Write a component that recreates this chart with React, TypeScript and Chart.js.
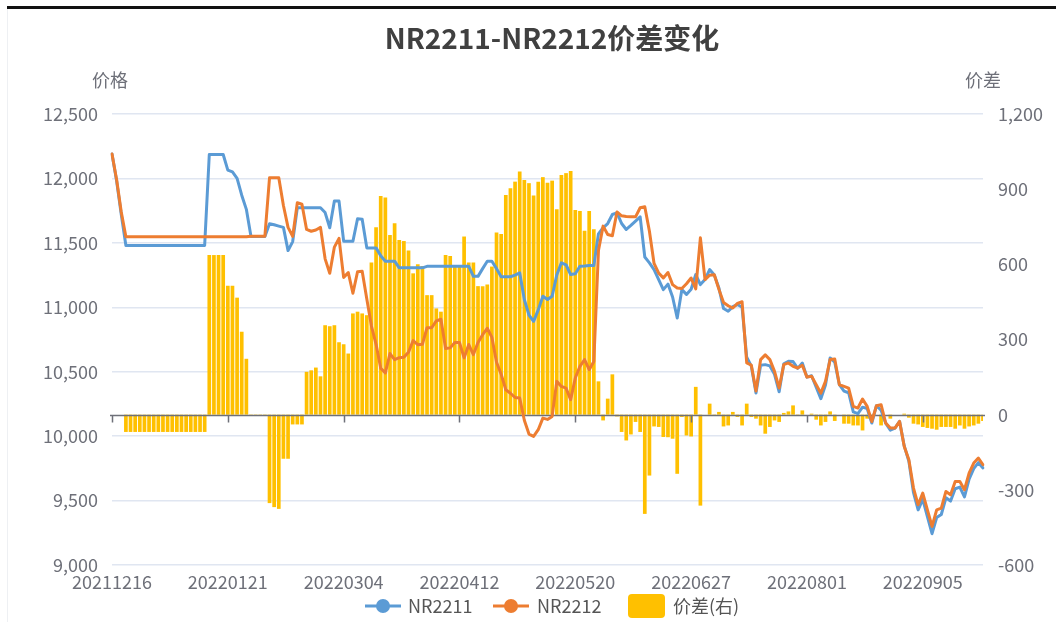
import React, { useEffect, useRef } from 'react';
import { Chart, registerables } from 'chart.js';

Chart.register(...registerables);

const FONT = '"Noto Sans CJK SC", "Noto Sans", sans-serif';

const chartTitle = 'NR2211-NR2212价差变化';
const leftAxisName = '价格';
const rightAxisName = '价差';
const seriesNames = ['NR2211', 'NR2212', '价差(右)'];

// trading days (yyyymm, day list)
const tradingDays: [string, number[]][] = [
  ['202112', [16, 17, 20, 21, 22, 23, 24, 27, 28, 29, 30, 31]],
  ['202201', [4, 5, 6, 7, 10, 11, 12, 13, 14, 17, 18, 19, 20, 21, 24, 25, 26, 27, 28]],
  ['202202', [7, 8, 9, 10, 11, 14, 15, 16, 17, 18, 21, 22, 23, 24, 25, 28]],
  ['202203', [1, 2, 3, 4, 7, 8, 9, 10, 11, 14, 15, 16, 17, 18, 21, 22, 23, 24, 25, 28, 29, 30, 31]],
  ['202204', [1, 6, 7, 8, 11, 12, 13, 14, 15, 18, 19, 20, 21, 22, 25, 26, 27, 28, 29]],
  ['202205', [5, 6, 9, 10, 11, 12, 13, 16, 17, 18, 19, 20, 23, 24, 25, 26, 27, 30, 31]],
  ['202206', [1, 2, 6, 7, 8, 9, 10, 13, 14, 15, 16, 17, 20, 21, 22, 23, 24, 27, 28, 29, 30]],
  ['202207', [1, 4, 5, 6, 7, 8, 11, 12, 13, 14, 15, 18, 19, 20, 21, 22, 25, 26, 27, 28, 29]],
  ['202208', [1, 2, 3, 4, 5, 8, 9, 10, 11, 12, 15, 16, 17, 18, 19, 22, 23, 24, 25, 26, 29, 30, 31]],
  ['202209', [1, 2, 5, 6, 7, 8, 9, 13, 14, 15, 16, 19, 20, 21, 22, 23]],
];
const categories: string[] = tradingDays.flatMap(([ym, days]) =>
  days.map((d) => ym + String(d).padStart(2, '0'))
);
const labelEvery = 25;

const nr2211 = [
  12190, 11980, 11720, 11480, 11480, 11480, 11480, 11480, 11480, 11480,
  11480, 11480, 11480, 11480, 11480, 11480, 11480, 11480, 11480, 11480,
  11480, 12186, 12186, 12186, 12186, 12065, 12050, 12000, 11870, 11760,
  11550, 11550, 11550, 11550, 11648, 11640, 11630, 11620, 11440, 11510,
  11772, 11772, 11772, 11772, 11772, 11772, 11735, 11617, 11824, 11824,
  11513, 11513, 11513, 11687, 11684, 11461, 11461, 11461, 11400, 11358,
  11358, 11358, 11306, 11306, 11306, 11306, 11306, 11306, 11318, 11318,
  11318, 11318, 11318, 11318, 11318, 11318, 11318, 11318, 11240, 11240,
  11300, 11357, 11357, 11300, 11237, 11237, 11237, 11250, 11267, 11060,
  10940, 10891, 10980, 11086, 11060, 11086, 11250, 11345, 11330, 11254,
  11260, 11319, 11320, 11324, 11324, 11570, 11617, 11650, 11720, 11733,
  11650, 11604, 11635, 11668, 11702, 11390, 11345, 11293, 11215, 11137,
  11180, 11080, 10917, 11137, 11100, 11140, 11254, 11176, 11215, 11293,
  11250, 11150, 10990, 10969, 11005, 11021, 11000, 10612, 10542, 10335,
  10551, 10555, 10545, 10480, 10344, 10562, 10581, 10579, 10526, 10567,
  10458, 10469, 10379, 10291, 10396, 10607, 10574, 10399, 10350, 10337,
  10188, 10175, 10225, 10215, 10102, 10236, 10201, 10101, 10047, 10063,
  10114, 9924, 9805, 9561, 9428, 9509, 9375, 9243, 9368, 9392,
  9522, 9496, 9592, 9605, 9528, 9666, 9748, 9794, 9753,
];

const nr2212 = [
  12190, 11990, 11740, 11547, 11547, 11547, 11547, 11547, 11547, 11547,
  11547, 11547, 11547, 11547, 11547, 11547, 11547, 11547, 11547, 11547,
  11547, 11547, 11547, 11547, 11547, 11547, 11547, 11547, 11547, 11547,
  11552, 11552, 11552, 11552, 12005, 12005, 12005, 11790, 11620, 11550,
  11811, 11800, 11604, 11590, 11600, 11620, 11376, 11264, 11467, 11535,
  11232, 11269, 11109, 11276, 11280, 11064, 10854, 10713, 10527, 10491,
  10641, 10594, 10609, 10613, 10651, 10742, 10710, 10713, 10841, 10841,
  10894, 10907, 10681, 10685, 10727, 10727, 10607, 10711, 10633, 10727,
  10787, 10837, 10766, 10573, 10480, 10360, 10333, 10300, 10296, 10123,
  10016, 9998, 10050, 10140, 10130, 10153, 10425, 10386, 10373, 10283,
  10451, 10542, 10594, 10516, 10580, 11440, 11630, 11565, 11555, 11740,
  11710, 11705, 11702, 11702, 11772, 11780, 11590, 11340, 11265, 11228,
  11270, 11176, 11150, 11146, 11183, 11227, 11143, 11539, 11215, 11249,
  11253, 11139, 11037, 11012, 10994, 11030, 11043, 10568, 10551, 10351,
  10594, 10631, 10594, 10503, 10373, 10555, 10568, 10542, 10529, 10550,
  10458, 10465, 10399, 10334, 10425, 10594, 10599, 10399, 10386, 10373,
  10231, 10218, 10288, 10231, 10114, 10236, 10244, 10101, 10063, 10063,
  10114, 9920, 9817, 9597, 9467, 9558, 9428, 9299, 9428, 9441,
  9571, 9545, 9648, 9648, 9584, 9713, 9791, 9830, 9778,
];

const spread = [
  0, 0, 0, -69, -69, -69, -69, -69, -69, -69,
  -69, -69, -69, -69, -69, -69, -69, -69, -69, -69,
  -69, 637, 637, 637, 637, 515, 515, 467, 331, 223,
  -3, -3, -3, -3, -353, -369, -376, -176, -176, -39,
  -39, -39, 171, 177, 188, 153, 357, 353, 357, 289,
  281, 244, 404, 411, 404, 397, 607, 748, 873, 867,
  717, 764, 697, 693, 655, 564, 600, 593, 477, 477,
  424, 411, 637, 633, 591, 591, 711, 607, 607, 513,
  513, 520, 591, 727, 721, 877, 904, 930, 971, 937,
  924, 875, 930, 948, 926, 934, 820, 957, 964, 973,
  817, 813, 734, 813, 740, 133, -23, 64, 161, -7,
  -69, -103, -79, -29, -69, -396, -243, -47, -49, -89,
  -90, -96, -236, -9, -83, -87, 111, -363, 0, 44,
  -3, 11, -47, -43, 11, -9, -43, 44, -9, -16,
  -43, -76, -49, -23, -29, 7, 13, 37, -3, 17,
  0, 4, -20, -43, -29, 13, -25, 0, -36, -36,
  -43, -43, -63, -16, -12, 0, -43, 0, -16, 0,
  0, 4, -12, -36, -39, -49, -53, -56, -60, -49,
  -49, -49, -56, -43, -56, -47, -43, -36, -25,
];

const leftMin = 9000;
const leftMax = 12500;
const leftStep = 500;
const rightMin = -600;
const rightMax = 1200;
const rightStep = 300;

const BLUE = '#5B9BD5';
const ORANGE = '#ED7D31';
const YELLOW = '#FFC000';
const AXIS = '#6E7079';
const GRID = '#E0E6F1';

const overlayPlugin = {
  id: 'overlay',
  afterDatasetDraw(chart: any, args: any) {
    if (args.index !== 2) return;
    const ctx = chart.ctx;
    const y = Math.round(chart.scales.y1.getPixelForValue(0)) + 0.5;
    const { left, right } = chart.chartArea;
    ctx.save();
    ctx.strokeStyle = AXIS;
    ctx.lineWidth = 1.5;
    ctx.beginPath();
    ctx.moveTo(left - 2, y);
    ctx.lineTo(right + 2, y);
    for (let i = 0; i < categories.length; i += labelEvery) {
      const x = Math.round(chart.scales.x.getPixelForValue(i)) + 0.5;
      ctx.moveTo(x, y);
      ctx.lineTo(x, y + 7);
    }
    ctx.stroke();
    ctx.restore();
  },
  afterDraw(chart: any) {
    const ctx = chart.ctx;
    ctx.save();
    ctx.textBaseline = 'middle';
    // title
    ctx.fillStyle = '#404040';
    ctx.font = `bold 28px ${FONT}`;
    ctx.textAlign = 'center';
    ctx.fillText(chartTitle, 552, 38);
    // axis names
    ctx.font = `18px ${FONT}`;
    ctx.fillStyle = AXIS;
    ctx.textAlign = 'center';
    ctx.fillText(leftAxisName, 110, 80);
    ctx.fillText(rightAxisName, 983, 80);
    // legend
    const ly = 606;
    ctx.textAlign = 'left';
    ctx.font = `18px ${FONT}`;
    const drawLineIcon = (x: number, color: string) => {
      ctx.strokeStyle = color;
      ctx.lineWidth = 3;
      ctx.beginPath();
      ctx.moveTo(x, ly);
      ctx.lineTo(x + 36, ly);
      ctx.stroke();
      ctx.fillStyle = color;
      ctx.beginPath();
      ctx.arc(x + 18, ly, 7, 0, Math.PI * 2);
      ctx.fill();
    };
    drawLineIcon(365, BLUE);
    ctx.fillStyle = '#555';
    ctx.fillText(seriesNames[0], 408, ly);
    drawLineIcon(493, ORANGE);
    ctx.fillStyle = '#555';
    ctx.fillText(seriesNames[1], 537, ly);
    ctx.fillStyle = YELLOW;
    ctx.beginPath();
    ctx.roundRect(628, ly - 12, 37, 24, 4);
    ctx.fill();
    ctx.fillStyle = '#555';
    ctx.fillText(seriesNames[2], 673, ly);
    ctx.restore();
  },
};

export default function App() {
  const ref = useRef<HTMLCanvasElement | null>(null);
  useEffect(() => {
    if (!ref.current) return;
    const chart = new Chart(ref.current, {
      type: 'bar',
      data: {
        labels: categories,
        datasets: [
          {
            type: 'line',
            label: seriesNames[0],
            data: nr2211,
            borderColor: BLUE,
            backgroundColor: BLUE,
            borderWidth: 3,
            borderJoinStyle: 'round',
            borderCapStyle: 'round',
            pointRadius: 0,
            tension: 0,
            yAxisID: 'y',
            order: 2,
          } as any,
          {
            type: 'line',
            label: seriesNames[1],
            data: nr2212,
            borderColor: ORANGE,
            backgroundColor: ORANGE,
            borderWidth: 3,
            borderJoinStyle: 'round',
            borderCapStyle: 'round',
            pointRadius: 0,
            tension: 0,
            yAxisID: 'y',
            order: 1,
          } as any,
          {
            type: 'bar',
            label: seriesNames[2],
            data: spread,
            backgroundColor: YELLOW,
            borderWidth: 0,
            barPercentage: 0.8,
            categoryPercentage: 1,
            yAxisID: 'y1',
            order: 3,
          } as any,
        ],
      },
      options: {
        responsive: false,
        animation: false,
        events: [],
        layout: { padding: { top: 114, left: 0, right: 0, bottom: 0 } },
        plugins: {
          legend: { display: false },
          title: { display: false },
          tooltip: { enabled: false },
        },
        scales: {
          x: {
            type: 'category',
            offset: false,
            grid: { display: false, drawTicks: false },
            border: { display: false },
            ticks: {
              autoSkip: false,
              maxRotation: 0,
              minRotation: 0,
              padding: 6,
              color: AXIS,
              font: { family: FONT, size: 18 },
              callback: (_v: any, i: number) => (i % labelEvery === 0 ? categories[i] : ''),
            },
            afterFit: (s: any) => { s.height = 78; },
          },
          y: {
            position: 'left',
            min: leftMin,
            max: leftMax,
            ticks: {
              stepSize: leftStep,
              color: AXIS,
              padding: 14,
              font: { family: FONT, size: 18 },
            },
            grid: { color: GRID, lineWidth: 1.5, drawTicks: false },
            border: { display: false },
            afterFit: (s: any) => { s.width = 112; },
          },
          y1: {
            position: 'right',
            min: rightMin,
            max: rightMax,
            ticks: {
              stepSize: rightStep,
              color: AXIS,
              padding: 15,
              font: { family: FONT, size: 18 },
            },
            grid: { display: false, drawTicks: false },
            border: { display: false },
            afterFit: (s: any) => { s.width = 73; },
          },
        },
      },
      plugins: [overlayPlugin],
    });
    return () => chart.destroy();
  }, []);

  return (
    <div style={{ position: 'absolute', left: 0, top: 0, width: 1056, height: 643, background: '#fff' }}>
      <div style={{ position: 'absolute', left: 7, top: 6, width: 1049, height: 3, background: '#111' }} />
      <div style={{ position: 'absolute', left: 7, top: 9, width: 1, height: 613, background: '#EEF0F3' }} />
      <canvas ref={ref} width={1056} height={643} style={{ position: 'absolute', left: 0, top: 0 }} />
    </div>
  );
}
